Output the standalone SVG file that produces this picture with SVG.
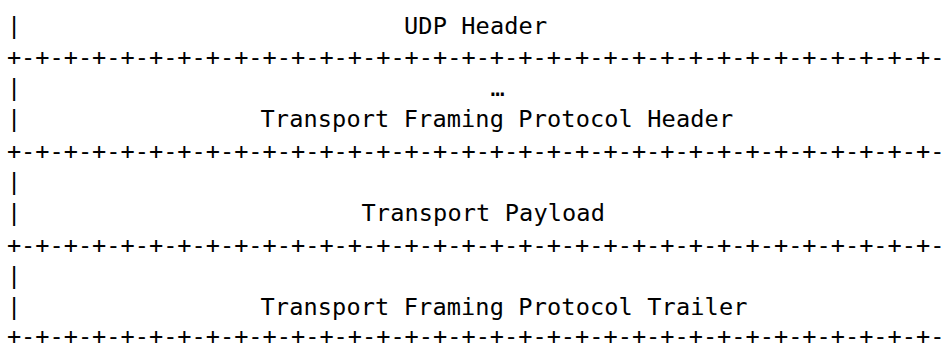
<svg xmlns="http://www.w3.org/2000/svg" width="951" height="344" viewBox="0 0 951 344">
<style>
text{font-family:"DejaVu Sans Mono",monospace;font-size:23.6px;fill:#000;white-space:pre}
.lbl{letter-spacing:0.12px}
</style>
<rect width="951" height="344" fill="#fff"/>
<g id="udp-header">
<text x="6.9" y="33.5">|</text>
<text class="lbl" x="404" y="33.5">UDP Header</text>
</g>
<g id="connectors">
<text x="6.9" y="64.8">+-+-+-+-+-+-+-+-+-+-+-+-+-+-+-+-+-+-+-+-+-+-+-+-+-+-+-+-+-+-+-+-+-</text>
<text x="6.9" y="158.7">+-+-+-+-+-+-+-+-+-+-+-+-+-+-+-+-+-+-+-+-+-+-+-+-+-+-+-+-+-+-+-+-+-</text>
<text x="6.9" y="252.6">+-+-+-+-+-+-+-+-+-+-+-+-+-+-+-+-+-+-+-+-+-+-+-+-+-+-+-+-+-+-+-+-+-</text>
<text x="6.9" y="344">+-+-+-+-+-+-+-+-+-+-+-+-+-+-+-+-+-+-+-+-+-+-+-+-+-+-+-+-+-+-+-+-+-</text>
</g>
<g id="tfp-header">
<text x="6.9" y="96.1">|</text>
<text x="490.5" y="96.1">…</text>
<text x="6.9" y="127.4">|</text>
<text class="lbl" x="260.5" y="127.4">Transport Framing Protocol Header</text>
</g>
<g id="transport-payload">
<text x="6.9" y="190">|</text>
<text x="6.9" y="221.3">|</text>
<text class="lbl" x="361.5" y="221.3">Transport Payload</text>
</g>
<g id="tfp-trailer">
<text x="6.9" y="283.9">|</text>
<text x="6.9" y="315.2">|</text>
<text class="lbl" x="260.5" y="315.2">Transport Framing Protocol Trailer</text>
</g>
</svg>
